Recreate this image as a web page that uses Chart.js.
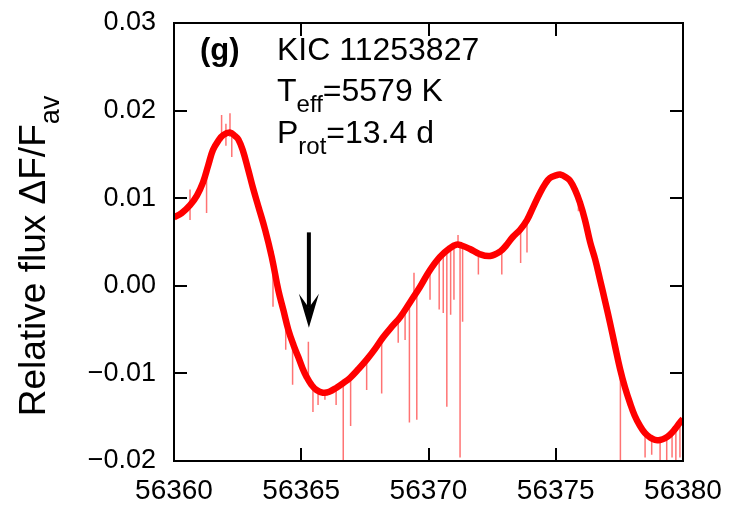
<!DOCTYPE html>
<html>
<head>
<meta charset="utf-8">
<script src="https://cdn.jsdelivr.net/npm/chart.js@4.4.1/dist/chart.umd.min.js"></script>
<style>
  html, body { margin: 0; padding: 0; background: #fff; }
  #wrap { width: 733px; height: 505px; }
</style>
</head>
<body>
<div id="wrap"><canvas id="lc"></canvas></div>
<script>
// light curve (time in days, relative flux)
const curveDays = [56360.00, 56360.30, 56360.63, 56360.90, 56361.14, 56361.35, 56361.53, 56361.75, 56361.93, 56362.20,
  56362.40, 56362.53, 56362.70, 56362.92, 56363.10, 56363.31, 56363.58, 56363.84, 56364.10, 56364.30,
  56364.49, 56364.70, 56364.88, 56365.05, 56365.21, 56365.40, 56365.60, 56365.85, 56366.10, 56366.40,
  56366.65, 56366.92, 56367.25, 56367.58, 56367.90, 56368.21, 56368.55, 56368.88, 56369.27, 56369.67,
  56370.06, 56370.45, 56370.84, 56371.10, 56371.30, 56371.63, 56372.02, 56372.42, 56372.81, 56373.05,
  56373.32, 56373.60, 56373.87, 56374.10, 56374.38, 56374.60, 56374.77, 56375.00, 56375.17, 56375.40,
  56375.56, 56375.75, 56375.95, 56376.15, 56376.35, 56376.55, 56376.74, 56376.95, 56377.13, 56377.33,
  56377.52, 56377.72, 56377.92, 56378.10, 56378.31, 56378.50, 56378.70, 56378.90, 56379.10, 56379.30,
  56379.49, 56379.70, 56379.88, 56380.00];
const curveFlux = [0.0078, 0.0083, 0.0092, 0.0103, 0.0118, 0.0138, 0.0155, 0.0166, 0.0172, 0.0175,
  0.0171, 0.0167, 0.0155, 0.0132, 0.0112, 0.0091, 0.0064, 0.0033, -0.0005, -0.0028,
  -0.0050, -0.0068, -0.0081, -0.0094, -0.0104, -0.0113, -0.0119, -0.0122, -0.0121, -0.0116,
  -0.0111, -0.0105, -0.0095, -0.0084, -0.0072, -0.0059, -0.0047, -0.0036, -0.0019, -0.0001,
  0.0018, 0.0033, 0.0043, 0.0047, 0.0046, 0.0042, 0.0036, 0.0034, 0.0039, 0.0046,
  0.0056, 0.0064, 0.0075, 0.0089, 0.0106, 0.0117, 0.0123, 0.0126, 0.0127, 0.0124,
  0.0120, 0.0110, 0.0095, 0.0075, 0.0050, 0.0030, 0.0007, -0.0019, -0.0042, -0.0069,
  -0.0094, -0.0116, -0.0134, -0.0148, -0.0160, -0.0168, -0.0173, -0.0176, -0.0176, -0.0174,
  -0.0170, -0.0163, -0.0156, -0.0152];

// single outlying points (spikes): time, upper end, lower end
const spikeDays = [56360.63, 56361.28, 56361.87, 56362.04, 56362.20, 56362.27, 56363.89, 56364.39, 56364.66, 56365.28,
  56365.46, 56365.66, 56365.93, 56366.37, 56366.65, 56366.94, 56367.57, 56368.16, 56368.81, 56369.08,
  56369.25, 56369.43, 56369.54, 56370.06, 56370.42, 56370.58, 56370.72, 56370.87, 56371.00, 56371.16,
  56371.24, 56371.34, 56371.96, 56372.88, 56373.62, 56373.87, 56375.89, 56377.54, 56378.51, 56378.77,
  56379.10, 56379.36, 56379.57, 56379.72, 56379.88];
const spikeTop = [0.0110, 0.0130, 0.0195, 0.0185, 0.0197, 0.0172, 0.0040, -0.0040, -0.0060, -0.0064,
  -0.0115, -0.0120, -0.0122, -0.0118, -0.0111, -0.0106, -0.0084, -0.0060, -0.0040, -0.0030,
  -0.0022, 0.0015, -0.0010, 0.0016, 0.0030, 0.0035, 0.0040, 0.0042, 0.0044, 0.0058,
  0.0047, 0.0046, 0.0036, 0.0040, 0.0064, 0.0074, 0.0098, -0.0096, -0.0168, -0.0174,
  -0.0176, -0.0174, -0.0168, -0.0163, -0.0156];
const spikeBottom = [0.0075, 0.0083, 0.0165, 0.0160, 0.0170, 0.0147, -0.0024, -0.0073, -0.0113, -0.0105,
  -0.0144, -0.0136, -0.0130, -0.0136, -0.0199, -0.0160, -0.0119, -0.0123, -0.0065, -0.0062,
  -0.0156, -0.0012, -0.0153, -0.0016, -0.0027, -0.0031, -0.0138, -0.0033, -0.0016, 0.0047,
  -0.0196, -0.0041, 0.0013, 0.0013, 0.0026, 0.0038, 0.0085, -0.0199, -0.0196, -0.0193,
  -0.0199, -0.0199, -0.0196, -0.0199, -0.0196];

// arrow marker
const arrowDay = 56365.30;
const arrowFrom = 0.0061;
const arrowTo = -0.0048;

const xTicks = [56360, 56365, 56370, 56375, 56380];
const yTicks = [-0.02, -0.01, 0.00, 0.01, 0.02, 0.03];

const curvePts = curveDays.map((d, i) => ({ x: d, y: curveFlux[i] }));
const spikePts = [];
spikeDays.forEach((d, i) => {
  spikePts.push({ x: d, y: spikeTop[i] });
  spikePts.push({ x: d, y: spikeBottom[i] });
  spikePts.push({ x: d, y: null });
});

const FONT = "'Liberation Sans', Arial, Helvetica, sans-serif";

// frame, inside ticks on all sides, labels with subscripts, arrow
const decor = {
  id: "decor",
  afterDatasetsDraw(chart) {
    const ctx = chart.ctx;
    const a = chart.chartArea;
    const xs = chart.scales.x, ys = chart.scales.y;
    const tl = 13;
    ctx.save();
    ctx.strokeStyle = "#000";
    ctx.lineWidth = 2;
    ctx.strokeRect(a.left, a.top, a.right - a.left, a.bottom - a.top);
    ctx.beginPath();
    xTicks.forEach(t => {
      const px = Math.round(xs.getPixelForValue(t));
      ctx.moveTo(px, a.bottom); ctx.lineTo(px, a.bottom - tl);
      ctx.moveTo(px, a.top); ctx.lineTo(px, a.top + tl);
    });
    yTicks.forEach(t => {
      const py = Math.round(ys.getPixelForValue(t));
      ctx.moveTo(a.left, py); ctx.lineTo(a.left + tl, py);
      ctx.moveTo(a.right, py); ctx.lineTo(a.right - tl, py);
    });
    ctx.stroke();

    // arrow
    const ax = xs.getPixelForValue(arrowDay);
    const ay0 = ys.getPixelForValue(arrowFrom);
    const ay1 = ys.getPixelForValue(arrowTo);
    ctx.lineWidth = 4;
    ctx.beginPath();
    ctx.moveTo(ax, ay0); ctx.lineTo(ax, ay1 - 20);
    ctx.stroke();
    ctx.fillStyle = "#000";
    ctx.beginPath();
    ctx.moveTo(ax - 10, ay1 - 34);
    ctx.lineTo(ax, ay1 - 20);
    ctx.lineTo(ax + 10, ay1 - 34);
    ctx.lineTo(ax, ay1);
    ctx.closePath();
    ctx.fill();

    // text block
    ctx.fillStyle = "#000";
    ctx.textBaseline = "alphabetic";
    ctx.textAlign = "left";
    ctx.font = "bold 31px " + FONT;
    ctx.fillText("(g)", 200, 60);
    ctx.font = "32px " + FONT;
    ctx.fillText("KIC 11253827", 277, 60);
    const sub = (x, y, main, s, rest) => {
      ctx.font = "32px " + FONT;
      ctx.fillText(main, x, y);
      x += ctx.measureText(main).width;
      ctx.font = "24px " + FONT;
      ctx.fillText(s, x, y + 11);
      x += ctx.measureText(s).width;
      ctx.font = "32px " + FONT;
      ctx.fillText(rest, x, y);
    };
    sub(277, 101, "T", "eff", "=5579 K");
    sub(277, 143, "P", "rot", "=13.4 d");

    // y axis title
    ctx.translate(45, (a.top + a.bottom) / 2 + 14);
    ctx.rotate(-Math.PI / 2);
    ctx.font = "37px " + FONT;
    const mainT = "Relative flux \u0394F/F";
    const w1 = ctx.measureText(mainT).width;
    ctx.font = "27px " + FONT;
    const w2 = ctx.measureText("av").width;
    const x0 = -(w1 + w2) / 2;
    ctx.font = "37px " + FONT;
    ctx.fillText(mainT, x0, 0);
    ctx.font = "27px " + FONT;
    ctx.fillText("av", x0 + w1, 14);
    ctx.restore();
  }
};

new Chart(document.getElementById("lc"), {
  type: "line",
  data: {
    datasets: [
      {
        data: spikePts,
        borderColor: "rgba(255,0,0,0.55)",
        borderWidth: 1.5,
        pointRadius: 0,
        spanGaps: false,
        tension: 0
      },
      {
        data: curvePts,
        borderColor: "#ff0000",
        borderWidth: 6.5,
        pointRadius: 0,
        tension: 0.4
      }
    ]
  },
  options: {
    responsive: true,
    maintainAspectRatio: false,
    animation: false,
    layout: { padding: { top: 23, right: 50, left: 0, bottom: 0 } },
    plugins: { legend: { display: false }, tooltip: { enabled: false } },
    scales: {
      x: {
        type: "linear",
        min: 56360,
        max: 56380,
        afterFit: s => { s.height = 44; s.paddingLeft = 0; s.paddingRight = 0; },
        afterBuildTicks: s => { s.ticks = xTicks.map(v => ({ value: v })); },
        grid: { display: false, drawTicks: false },
        border: { display: false },
        ticks: {
          color: "#000",
          font: { family: FONT, size: 28 },
          padding: 13,
          maxRotation: 0,
          callback: v => String(v)
        }
      },
      y: {
        type: "linear",
        min: -0.02,
        max: 0.03,
        afterFit: s => { s.width = 174; s.paddingTop = 0; s.paddingBottom = 0; },
        afterBuildTicks: s => { s.ticks = yTicks.map(v => ({ value: v })); },
        grid: { display: false, drawTicks: false },
        border: { display: false },
        ticks: {
          color: "#000",
          font: { family: FONT, size: 27 },
          padding: 18,
          callback: v => Math.abs(v) < 1e-9 ? "0.00" : (v < 0 ? "\u2212" + Math.abs(v).toFixed(2) : v.toFixed(2))
        }
      }
    }
  },
  plugins: [decor]
});
</script>
</body>
</html>
